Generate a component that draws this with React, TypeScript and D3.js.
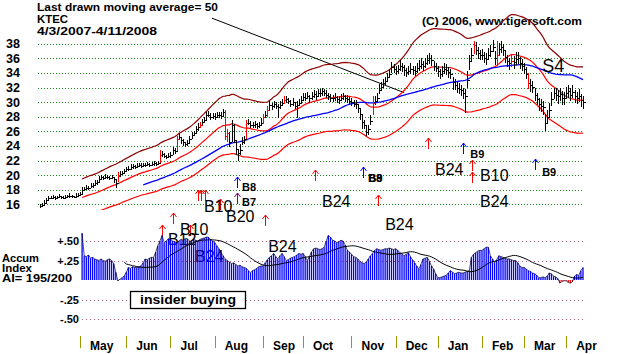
import * as d3 from 'd3';

// daily closes 4/3/2007 - 4/11/2008 (one per trading day)
const closes = [
  // Apr
  15.8, 15.9, 16.2, 16.6, 16.9, 16.9, 17.0, 16.9, 17.0, 17.1, 17.0, 16.9, 17.0, 17.1, 17.2, 17.1, 17.0, 17.2, 17.3,
  // May
  17.4, 18.0, 18.1, 18.3, 18.2, 18.5, 18.6, 18.9, 19.0, 19.5, 19.7, 19.6, 19.8, 19.7, 19.6, 19.7, 19.4, 18.9, 19.9, 20.1, 20.3, 20.5,
  // Jun
  20.8, 20.9, 21.1, 21.2, 21.1, 21.3, 21.4, 21.3, 21.4, 21.4, 21.5, 21.4, 21.5, 21.6, 21.5, 21.7, 22.8, 22.9, 22.6, 22.5, 22.6,
  // Jul
  22.7, 23.4, 23.3, 25.0, 25.2, 24.8, 24.5, 24.2, 24.4, 24.9, 25.5, 25.7, 26.3, 26.6, 26.9, 27.3, 27.6, 28.2, 28.3, 28.0, 28.1,
  // Aug
  28.0, 28.2, 28.3, 28.1, 28.6, 25.3, 25.8, 24.5, 26.9, 24.8, 23.6, 23.0, 23.4, 24.6, 24.9, 27.1, 27.2, 26.9, 26.8, 27.0, 26.7, 26.9, 27.2,
  // Sep
  28.0, 28.3, 28.9, 29.6, 29.4, 29.7, 29.5, 29.3, 29.6, 29.9, 30.3, 30.4, 30.1, 29.8, 30.0, 29.5, 29.6, 29.9, 30.3,
  // Oct
  30.7, 30.6, 30.9, 30.5, 30.8, 31.1, 30.9, 31.3, 31.2, 31.5, 31.3, 31.0, 30.8, 30.6, 30.5, 30.7, 30.4, 30.3, 30.6, 30.8, 30.5, 30.4, 30.2,
  // Nov
  30.0, 29.8, 29.7, 29.2, 28.4, 27.3, 26.9, 25.9, 26.3, 27.4, 29.9, 30.2, 30.6, 31.7, 32.1, 32.6, 32.9, 33.4, 33.9, 34.8, 34.6,
  // Dec
  34.3, 34.5, 34.9, 34.8, 34.4, 34.1, 34.3, 34.6, 34.4, 34.2, 34.7, 35.0, 35.2, 34.9, 35.3, 35.8, 36.0, 35.7, 35.0, 34.7,
  // Jan
  34.2, 33.9, 34.2, 34.6, 34.4, 34.1, 33.9, 32.7, 32.4, 32.0, 31.8, 31.6, 31.2, 30.9, 33.0, 35.6, 36.4, 37.8, 37.2, 36.7, 36.4,
  // Feb
  36.5, 36.1, 35.9, 36.5, 37.0, 37.6, 36.0, 36.4, 37.3, 37.5, 37.2, 36.2, 35.6, 35.3, 35.6, 35.5, 35.9, 36.0, 35.4, 35.0,
  // Mar
  34.6, 33.9, 32.6, 32.3, 32.1, 31.0, 30.4, 29.7, 29.5, 29.3, 27.2, 28.0, 28.9, 30.4, 31.2, 31.0, 30.8, 31.1, 30.6, 30.5,
  // Apr
  31.2, 31.5, 31.0, 31.4, 30.8, 30.5, 30.9, 30.3, 30.0,
];

// high above close, in tenths of a dollar
const hiOff = [
  2, 3, 4, 3, 2, 2, 3, 2, 2, 3, 2, 2, 3, 2, 3, 2, 2, 3, 3,
  3, 4, 3, 3, 3, 4, 3, 4, 3, 4, 3, 3, 4, 3, 3, 3, 3, 4, 5, 4, 3, 4,
  3, 3, 4, 3, 3, 3, 3, 3, 3, 3, 3, 3, 3, 3, 3, 3, 6, 4, 4, 3, 4,
  4, 4, 4, 4, 6, 4, 4, 4, 4, 4, 4, 4, 4, 5, 4, 4, 4, 5, 5, 5, 4,
  5, 5, 4, 5, 5, 36, 5, 14, 6, 22, 12, 6, 8, 6, 4, 5, 5, 5, 5, 4, 5, 4, 6,
  4, 5, 5, 5, 5, 5, 5, 5, 5, 5, 5, 5, 5, 5, 6, 5, 5, 5, 5,
  5, 6, 5, 5, 6, 5, 6, 5, 6, 5, 5, 6, 5, 5, 5, 6, 5, 5, 5, 5, 5, 6, 5,
  5, 5, 6, 6, 8, 10, 6, 10, 6, 8, 10, 6, 6, 8, 6, 6, 6, 6, 6, 7, 6,
  7, 6, 8, 6, 7, 6, 7, 8, 6, 7, 6, 7, 8, 7, 8, 6, 7, 7, 6, 7,
  8, 7, 8, 7, 8, 7, 7, 8, 8, 7, 8, 7, 8, 9, 12, 8, 10, 6, 10, 8, 8,
  8, 7, 8, 9, 8, 9, 10, 20, 8, 9, 8, 9, 8, 8, 9, 8, 9, 8, 8, 9,
  8, 9, 14, 9, 8, 10, 9, 8, 9, 8, 12, 9, 10, 10, 8, 9, 9, 8, 9, 9,
  9, 8, 9, 9, 8, 9, 9, 8, 8,
];

// low below close, in tenths of a dollar
const loOff = [
  3, 2, 3, 4, 5, 2, 2, 3, 2, 2, 3, 2, 2, 2, 3, 3, 2, 2, 3,
  2, 6, 3, 3, 3, 3, 3, 4, 3, 5, 4, 3, 3, 3, 3, 3, 5, 6, 9, 3, 3, 3,
  3, 3, 4, 3, 3, 3, 3, 3, 3, 3, 3, 3, 3, 3, 3, 3, 12, 4, 3, 3, 3,
  3, 7, 4, 17, 4, 5, 5, 4, 4, 5, 6, 4, 6, 5, 4, 5, 4, 6, 4, 5, 4,
  5, 4, 5, 4, 5, 5, 12, 6, 24, 4, 8, 10, 6, 5, 6, 22, 4, 5, 4, 5, 4, 5, 4,
  10, 5, 10, 8, 5, 5, 4, 15, 5, 5, 5, 5, 4, 5, 5, 5, 18, 5, 5,
  6, 5, 5, 6, 5, 5, 6, 5, 5, 6, 5, 5, 5, 6, 5, 5, 5, 6, 5, 5, 5, 5, 6,
  6, 5, 6, 7, 8, 10, 6, 5, 8, 6, 16, 6, 6, 6, 6, 6, 6, 6, 6, 8, 6,
  6, 7, 6, 7, 8, 7, 6, 7, 7, 6, 7, 8, 6, 7, 6, 7, 8, 7, 8, 6,
  7, 8, 7, 8, 7, 8, 8, 10, 7, 8, 7, 8, 8, 24, 10, 12, 8, 12, 8, 8, 7,
  8, 7, 8, 7, 8, 8, 9, 14, 9, 8, 9, 8, 8, 9, 8, 9, 8, 8, 9, 8,
  8, 8, 8, 9, 9, 8, 8, 9, 8, 10, 12, 10, 9, 9, 8, 9, 10, 9, 10, 9,
  8, 9, 9, 8, 9, 8, 9, 10, 9,
];

const redBars = [37, 57, 65, 76, 88, 89, 98, 106, 108, 116, 158, 206, 217, 224, 232];

// accumulation index, starts at trading day 20
const aiStart = 20;
const aiValues = [
  0.60, 0.31, 0.30, 0.32, 0.28, 0.29, 0.27, 0.26, 0.25, 0.27, 0.25, 0.24, 0.26, 0.27, 0.25, 0.21, 0.10, -0.01, 0.01, 0.03, 0.05,
  0.10, 0.16, 0.15, 0.17, 0.16, 0.16, 0.17, 0.18, 0.22, 0.27, 0.26, 0.28, 0.29, 0.29, 0.36, 0.44, 0.50, 0.57, 0.48, 0.50, 0.53,
  0.52, 0.50, 0.49, 0.48, 0.50, 0.52, 0.51, 0.53, 0.53, 0.50, 0.49, 0.52, 0.51, 0.50, 0.52, 0.53, 0.54, 0.55, 0.55, 0.52, 0.50,
  0.48, 0.44, 0.40, 0.35, 0.31, 0.27, 0.25, 0.23, 0.21, 0.22, 0.20, 0.18, 0.19, 0.17, 0.16, 0.15, 0.12, 0.09, 0.12, 0.13, 0.15, 0.17, 0.18,
  0.18, 0.22, 0.26, 0.29, 0.31, 0.34, 0.30, 0.27, 0.31, 0.34, 0.30, 0.25, 0.26, 0.28, 0.29, 0.30, 0.32, 0.34, 0.33,
  0.34, 0.30, 0.25, 0.30, 0.36, 0.40, 0.41, 0.40, 0.39, 0.40, 0.42, 0.50, 0.57, 0.55, 0.51, 0.50, 0.48, 0.49, 0.51, 0.50, 0.45, 0.38, 0.36,
  0.33, 0.30, 0.29, 0.27, 0.24, 0.22, 0.21, 0.23, 0.27, 0.31, 0.34, 0.38, 0.40, 0.39, 0.38, 0.39, 0.40, 0.40, 0.41, 0.40, 0.39,
  0.40, 0.38, 0.35, 0.33, 0.31, 0.33, 0.35, 0.30, 0.26, 0.22, 0.18, 0.14, 0.20, 0.27, 0.28, 0.29, 0.24, 0.18, 0.14, 0.08,
  0.03, 0.03, 0.04, 0.05, 0.06, 0.09, 0.12, 0.10, 0.08, 0.09, 0.10, 0.09, 0.09, 0.10, 0.11, 0.12, 0.29, 0.33, 0.35, 0.37, 0.38,
  0.38, 0.40, 0.42, 0.42, 0.31, 0.27, 0.22, 0.26, 0.31, 0.30, 0.29, 0.28, 0.27, 0.27, 0.26, 0.25, 0.25, 0.22, 0.18, 0.16,
  0.16, 0.14, 0.12, 0.11, 0.09, 0.08, 0.06, 0.03, 0.03, 0.04, 0.03, 0.05, 0.09, 0.08, 0.05, 0.04, 0.02, -0.04, -0.02, -0.01,
  -0.01, -0.03, -0.04, -0.02, 0.05, 0.07, 0.06, 0.12, 0.16,
];

const monthNames = ['May', 'Jun', 'Jul', 'Aug', 'Sep', 'Oct', 'Nov', 'Dec', 'Jan', 'Feb', 'Mar', 'Apr'];
const monthStarts = [19, 41, 62, 83, 106, 125, 148, 169, 189, 210, 230, 250];

const priceTicks = [38, 36, 34, 32, 30, 28, 26, 24, 22, 20, 18, 16];
const aiTicks = [0.5, 0.25, -0.25, -0.5];
const aiTickLabels = ['+.50', '+.25', '-.25', '-.50'];

// signal arrows: trading day, price level of the tip
const arrows = [
  { day: 63.2, val: 14.8, color: '#ff0000' },
  { day: 58, val: 13.2, color: '#ff0000' },
  { day: 71.3, val: 13.2, color: '#ff0000' },
  { day: 75.1, val: 18.0, color: '#ff0000' },
  { day: 76.5, val: 18.0, color: '#ff0000' },
  { day: 78.4, val: 18.0, color: '#ff0000' },
  { day: 85.6, val: 16.7, color: '#ff0000' },
  { day: 93.6, val: 19.7, color: '#0000ff' },
  { day: 93.6, val: 17.5, color: '#800080' },
  { day: 106.9, val: 14.5, color: '#ff0000' },
  { day: 130.7, val: 20.7, color: '#ff0000' },
  { day: 153.5, val: 21.1, color: '#0000ff' },
  { day: 160.6, val: 17.3, color: '#ff0000' },
  { day: 184.4, val: 25.1, color: '#ff0000' },
  { day: 201, val: 24.4, color: '#0000ff' },
  { day: 205.3, val: 22.1, color: '#ff0000' },
  { day: 205.3, val: 20.4, color: '#ff0000' },
  { day: 235.3, val: 22.2, color: '#0000ff' },
];

// signal labels: trading day of left edge, price level of baseline
const signals = [
  { text: 'B12', day: 60.8, val: 10.4, big: true },
  { text: 'B10', day: 66.5, val: 11.8, big: true },
  { text: 'B24', day: 73.7, val: 8.1, big: true },
  { text: 'B10', day: 77.9, val: 14.9, big: true },
  { text: 'B20', day: 88.4, val: 13.6, big: true },
  { text: 'B8', day: 96, val: 17.8, big: false },
  { text: 'B7', day: 96, val: 15.75, big: false },
  { text: 'B24', day: 108.4, val: 9.5, big: true },
  { text: 'B24', day: 134, val: 15.6, big: true },
  { text: 'B8', day: 155.9, val: 19.1, big: false },
  { text: 'B9', day: 156.1, val: 19.1, big: false },
  { text: 'B24', day: 164, val: 12.5, big: true },
  { text: 'B24', day: 187.7, val: 20.0, big: true },
  { text: 'B9', day: 204.4, val: 22.3, big: false },
  { text: 'B10', day: 209.1, val: 19.2, big: true },
  { text: 'B24', day: 209.1, val: 15.6, big: true },
  { text: 'B9', day: 238.6, val: 19.9, big: false },
];

const FONT = '"Liberation Sans", Arial, Helvetica, sans-serif';

function movingAverage(vals: number[], n: number): (number | null)[] {
  return vals.map((_, i) => (i < n - 1 ? null : (d3.mean(vals.slice(i - n + 1, i + 1)) as number)));
}

// snap to pixel centres so 1px strokes stay sharp
const px = (v: number) => Math.round(v) + 0.5;

export default function App() {
  const n = closes.length;
  const x = d3.scaleLinear().domain([0, n - 1]).range([40, 583]);
  const y = d3.scaleLinear().domain([16, 38]).range([204.3, 43.7]);
  const yAI = d3.scaleLinear().domain([-0.5, 0.5]).range([319, 241]);

  const highs = closes.map((c, i) => c + (hiOff[i] ?? 4) / 10);
  const lows = closes.map((c, i) => c - (loOff[i] ?? 4) / 10);

  const ma21 = movingAverage(closes, 21);
  const ma50 = movingAverage(closes, 50);
  const upper = ma21.map((v) => (v == null ? null : v * 1.15));
  const lower = ma21.map((v) => (v == null ? null : v * 0.85));

  const priceLine = d3
    .line<number | null>()
    .defined((d) => d != null)
    .x((_, i) => x(i))
    .y((d) => y(d as number));

  const aiMA = movingAverage(aiValues, 21);
  const aiLine = d3
    .line<number>()
    .x((_, i) => x(i + aiStart))
    .y((d) => yAI(d));
  const aiMaLine = d3
    .line<number | null>()
    .defined((d) => d != null)
    .x((_, i) => x(i + aiStart))
    .y((d) => yAI(d as number));

  const redSet = new Set(redBars);

  // pointer from the header text to the chart
  const pointer = { from: { day: 81.7, val: 41.5 }, to: { day: 173, val: 31.3 } };

  return (
    <svg
      width={624}
      height={354}
      style={{ position: 'absolute', left: 0, top: 0, background: '#fff' }}
      fontFamily={FONT}
    >
      <defs>
        <clipPath id="pclip">
          <rect x={38} y={0} width={548} height={210} />
        </clipPath>
      </defs>
      <rect x={0} y={0} width={624} height={354} fill="#fff" />

      {/* header */}
      <text x={37} y={11} fontSize={11.5} fontWeight="bold" textLength={181} lengthAdjust="spacingAndGlyphs">
        Last drawn moving average= 50
      </text>
      <text x={37} y={23} fontSize={11.5} fontWeight="bold" textLength={31} lengthAdjust="spacingAndGlyphs">
        KTEC
      </text>
      <text x={37} y={35} fontSize={11.5} fontWeight="bold" textLength={120} lengthAdjust="spacingAndGlyphs">
        4/3/2007-4/11/2008
      </text>
      <text x={422} y={25} fontSize={11.5} fontWeight="bold" textLength={160} lengthAdjust="spacingAndGlyphs">
        (C) 2006, www.tigersoft.com
      </text>

      {/* price grid */}
      {priceTicks.map((t) => (
        <g key={t}>
          <line
            x1={38}
            x2={583}
            y1={px(y(t))}
            y2={px(y(t))}
            stroke="#1a8a1a"
            strokeDasharray="1 2"
            strokeWidth={1}
            shapeRendering="crispEdges"
          />
          <text x={20} y={y(t) + 4.5} fontSize={12.5} fontWeight="bold" textAnchor="end">
            {t}
          </text>
        </g>
      ))}

      <line
        x1={x(pointer.from.day)}
        y1={y(pointer.from.val)}
        x2={x(pointer.to.day)}
        y2={y(pointer.to.val)}
        stroke="#000"
        strokeWidth={1}
      />

      <g clipPath="url(#pclip)" fill="none">
        <path d={priceLine(upper) ?? ''} stroke="#8b0000" strokeWidth={1.2} />
        <path d={priceLine(lower) ?? ''} stroke="#ff0000" strokeWidth={1.2} />
        <path d={priceLine(ma21) ?? ''} stroke="#ff0000" strokeWidth={1.2} />
        <path d={priceLine(ma50) ?? ''} stroke="#0000ff" strokeWidth={1.3} />
        {closes.map((c, i) => {
          const col = redSet.has(i) ? '#ff0000' : '#000';
          const bx = px(x(i));
          return (
            <g key={i} stroke={col} strokeWidth={1} shapeRendering="crispEdges">
              <line x1={bx} x2={bx} y1={Math.round(y(highs[i]))} y2={Math.round(y(lows[i]))} />
              <line x1={bx} x2={bx + 2} y1={px(y(c))} y2={px(y(c))} />
            </g>
          );
        })}
      </g>

      {/* signal arrows */}
      {arrows.map((a, k) => {
        const ax = px(x(a.day));
        const ay = Math.round(y(a.val));
        return (
          <g key={k} stroke={a.color} strokeWidth={1} fill="none">
            <line x1={ax} x2={ax} y1={ay} y2={ay + 11} />
            <path d={`M${ax - 3},${ay + 4} L${ax},${ay} L${ax + 3},${ay + 4}`} />
          </g>
        );
      })}

      {/* signal labels */}
      {signals.map((s, k) => (
        <text
          key={k}
          x={x(s.day)}
          y={y(s.val)}
          fontSize={s.big ? 16 : 11}
          fontWeight={s.big ? 'normal' : 'bold'}
          fill="#000"
        >
          {s.text}
        </text>
      ))}
      <text x={x(238.6)} y={y(34.1)} fontSize={18} fill="#000">
        S4
      </text>

      {/* accumulation index panel */}
      {aiTicks.map((t, k) => (
        <g key={t}>
          <line
            x1={82}
            x2={583}
            y1={px(yAI(t))}
            y2={px(yAI(t))}
            stroke="#b06080"
            strokeDasharray="1 3"
            shapeRendering="crispEdges"
          />
          <text x={79} y={yAI(t) + 4} fontSize={11} fontWeight="bold" textAnchor="end">
            {aiTickLabels[k]}
          </text>
        </g>
      ))}
      <text x={2} y={262} fontSize={10} fontWeight="bold" textLength={37} lengthAdjust="spacingAndGlyphs">Accum</text>
      <text x={2} y={272} fontSize={10} fontWeight="bold" textLength={30} lengthAdjust="spacingAndGlyphs">Index</text>
      <text x={2} y={282} fontSize={10} fontWeight="bold" textLength={70} lengthAdjust="spacingAndGlyphs">
        AI= 195/200
      </text>

      {aiValues.map((v, k) => (
        <line
          key={k}
          x1={x(k + aiStart)}
          x2={x(k + aiStart)}
          y1={yAI(0)}
          y2={yAI(v)}
          stroke={v < 0 ? '#ff0000' : '#0000ff'}
          strokeWidth={1.3}
        />
      ))}
      <path d={aiLine(aiValues) ?? ''} fill="none" stroke="#000030" strokeWidth={0.7} />
      <path d={aiMaLine(aiMA) ?? ''} fill="none" stroke="#000" strokeWidth={1} />

      <rect x={130.5} y={291.5} width={115} height={17} fill="#fff" stroke="#000" strokeWidth={1.3} />
      <text x={188} y={304} fontSize={13} fontWeight="bold" textAnchor="middle" textLength={96} lengthAdjust="spacingAndGlyphs">
        insider buying
      </text>

      {/* month axis */}
      {monthStarts.map((m, k) => (
        <g key={m}>
          <line
            x1={px(x(m))}
            x2={px(x(m))}
            y1={336}
            y2={348}
            stroke="#9a9a00"
            strokeWidth={1}
            shapeRendering="crispEdges"
          />
          <text x={x(m) + 10} y={350} fontSize={12} fontWeight="bold">
            {monthNames[k]}
          </text>
        </g>
      ))}
    </svg>
  );
}
